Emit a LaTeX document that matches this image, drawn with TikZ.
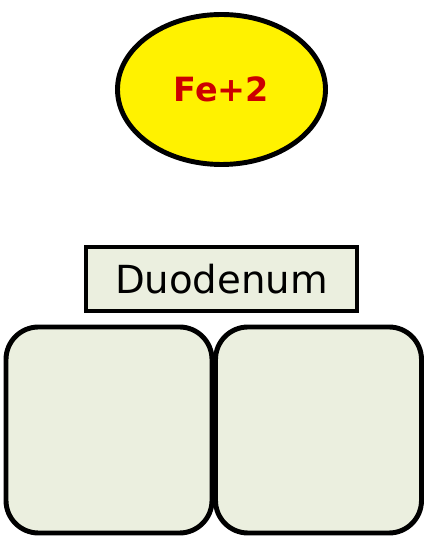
\documentclass[tikz,border=0pt]{standalone}
\usepackage{fontspec}
\setmainfont{DejaVu Sans}
\usepackage{tikz}
\usetikzlibrary{shapes.geometric}

\definecolor{cellgreen}{HTML}{EBEFDF}
\definecolor{ionred}{HTML}{CC0000}

\tikzset{
    cell/.style={draw=black, line width=2.8pt, fill=cellgreen, rounded corners=0.65cm,
        minimum width=4.12cm, minimum height=4.12cm, inner sep=0pt},
}

\begin{document}
\begin{tikzpicture}
        \useasboundingbox (0,0) rectangle (8.54,10.8);
        % iron ion
        \node[ellipse, draw=black, line width=2.8pt, fill=yellow, minimum width=4.16cm, minimum height=3cm, inner sep=0pt, text=ionred, font=\fontsize{19}{22}\selectfont\bfseries] (ion) at (4.43,9.01) {Fe+2};
        % label
        \node[draw=black, line width=2.8pt, fill=cellgreen, minimum width=5.42cm, minimum height=1.28cm, inner sep=0pt, font=\fontsize{22}{26}\selectfont] (duodenum) at (4.43,5.22) {Duodenum};
        % cells
        \node[cell] (leftcell) at (2.18,2.2) {};
        \node[cell] (rightcell) at (6.37,2.2) {};
\end{tikzpicture}
\end{document}
